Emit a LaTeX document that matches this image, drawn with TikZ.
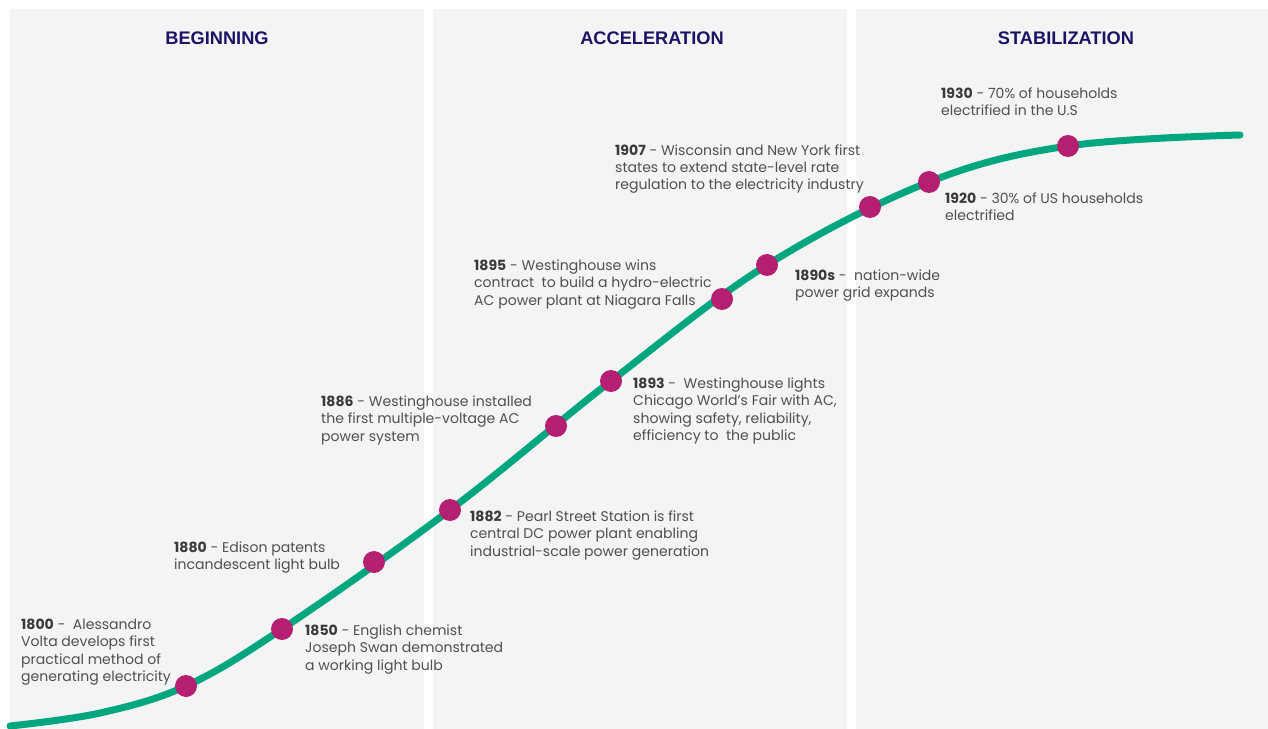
\documentclass[tikz,border=0pt]{standalone}
\usepackage{fontspec}
\setmainfont{Poppins}
\newfontfamily\headfont{Liberation Sans}
\usepackage{tikz}

\definecolor{panelgray}{HTML}{F4F4F4}
\definecolor{curvegreen}{HTML}{00A67E}
\definecolor{dotpink}{HTML}{B41F72}
\definecolor{headblue}{HTML}{1B1464}
\definecolor{textgray}{HTML}{505050}
\definecolor{yeargray}{HTML}{3A3A3A}
\newcommand{\yr}[1]{{\bfseries\color{yeargray}#1}}

\begin{document}
\begin{tikzpicture}[x=1bp,y=-1bp,
    panel/.style={fill=panelgray},
    phase/.style={font=\headfont\bfseries\fontsize{18.3}{20}\selectfont,text=headblue},
    dot/.style={circle,fill=dotpink,minimum size=22bp,inner sep=0pt},
    event/.style={anchor=base west,align=left,inner sep=0pt,text=textgray,
      font=\fontsize{14.1}{17.4}\selectfont}]
  \useasboundingbox (0,0) rectangle (1268,729);
  % three phases
  \fill[panel] (10,9) rectangle (424,729);
  \fill[panel] (433,9) rectangle (847,729);
  \fill[panel] (856,9) rectangle (1268,729);
  \node[phase] (beg) at (217,38) {BEGINNING};
  \node[phase] (acc) at (652,38) {ACCELERATION};
  \node[phase] (stab) at (1066,38) {STABILIZATION};
  % the curve
  \coordinate (start) at (10,726);
  \coordinate (low) at (100,713);
  \coordinate (stop) at (1240,135);
  \foreach \n/\p in {1800/{186,686},1850/{282,629},1880/{374,562},1882/{450,510},
      1886/{556,426},1893/{611,381},1895/{722,299},1890s/{767,265},
      1907/{870,207},1920/{929,182},1930/{1068,146}}
    \coordinate (c\n) at (\p);
  \draw[curvegreen,line width=7bp,line cap=round] plot[smooth,tension=0.6] coordinates
    {(start) (low) (c1800) (c1850) (c1882) (c1893) (c1890s) (c1920) (c1930) (stop)};
  \foreach \n in {1800,1850,1880,1882,1886,1893,1895,1890s,1907,1920,1930}
    \node[dot] (d\n) at (c\n) {};
  % events (placed at the baseline of the last line)
  \node[event] (e1800) at (21,681.5) {\yr{1800} -\ \ Alessandro\\Volta develops first\\practical method of\\generating electricity};
  \node[event] (e1850) at (305,670) {\yr{1850} - English chemist\\Joseph Swan demonstrated\\a working light bulb};
  \node[event] (e1880) at (174,569.5) {\yr{1880} - Edison patents\\incandescent light bulb};
  \node[event] (e1882) at (470,556) {\yr{1882} - Pearl Street Station is first\\central DC power plant enabling\\industrial-scale power generation};
  \node[event] (e1886) at (321,441) {\yr{1886} - Westinghouse installed\\the first multiple-voltage AC\\power system};
  \node[event] (e1893) at (633,440.5) {\yr{1893} -\ \ Westinghouse lights\\Chicago World’s Fair with AC,\\showing safety, reliability,\\efficiency to\ \ the public};
  \node[event] (e1895) at (474,305) {\yr{1895} - Westinghouse wins\\contract\ \ to build a hydro-electric\\AC power plant at Niagara Falls};
  \node[event] (e1890s) at (795,297.5) {\yr{1890s} -\ \ nation-wide\\power grid expands};
  \node[event] (e1907) at (615,190) {\yr{1907} - Wisconsin and New York first\\states to extend state-level rate\\regulation to the electricity industry};
  \node[event] (e1920) at (945,220.5) {\yr{1920} - 30\% of US households\\electrified};
  \node[event] (e1930) at (941,115.5) {\yr{1930} - 70\% of households\\electrified in the U.S};
\end{tikzpicture}
\end{document}
